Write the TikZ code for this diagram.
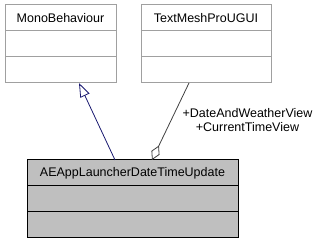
\documentclass[tikz,border=0pt]{standalone}
\usepackage{fontspec}
\setmainfont{Liberation Sans}
\usetikzlibrary{arrows.meta, positioning}
\definecolor{edgegrey}{HTML}{A0A0A0}
\definecolor{clsgrey}{HTML}{BFBFBF}
\definecolor{inhblue}{HTML}{191970}
\definecolor{aggrey}{HTML}{404040}
\tikzset{%
    cls/.style={rectangle, draw=edgegrey, fill=white, line width=1pt, outer sep=0pt,
        inner sep=0pt, minimum height=26pt, font=\fontsize{12.5}{14}\selectfont},
    clsa/.style={cls, draw=black, fill=clsgrey},
    inh/.style={line width=0.8pt, draw=inhblue, -{Triangle[open, length=14pt, width=10pt, fill=white]}},
    agg/.style={line width=0.8pt, draw=aggrey, {Diamond[open, length=16pt, width=9pt, fill=white]}-},
}
\begin{document}
\begin{tikzpicture}[x=1pt, y=-1pt]
    \useasboundingbox (0,0) rectangle (322,243);
    % base classes
    \node [cls, minimum width=111pt] (mono) at (60.5,18) {MonoBehaviour};
    \node [cls, minimum width=111pt, below=0pt of mono] (monoA) {};
    \node [cls, minimum width=111pt, below=0pt of monoA] (monoB) {};
    \node [cls, minimum width=130pt] (tmp) at (206,18) {TextMeshProUGUI};
    \node [cls, minimum width=130pt, below=0pt of tmp] (tmpA) {};
    \node [cls, minimum width=130pt, below=0pt of tmpA] (tmpB) {};
    % the updater class
    \node [clsa, minimum width=211pt] (upd) at (132.5,173) {AEAppLauncherDateTimeUpdate};
    \node [clsa, minimum width=211pt, below=0pt of upd] (updA) {};
    \node [clsa, minimum width=211pt, below=0pt of updA] (updB) {};
    \node [align=center, inner sep=0pt, font=\fontsize{12.5}{14}\selectfont] (lbl) at (247.5,120)
        {+DateAndWeatherView\\+CurrentTimeView};
    \draw [inh] ([xshift=-17.5pt]upd.north) -- ([xshift=18.5pt]monoB.south);
    \draw [agg] ([xshift=19.5pt]upd.north) -- ([xshift=-17pt]tmpB.south);
\end{tikzpicture}
\end{document}
